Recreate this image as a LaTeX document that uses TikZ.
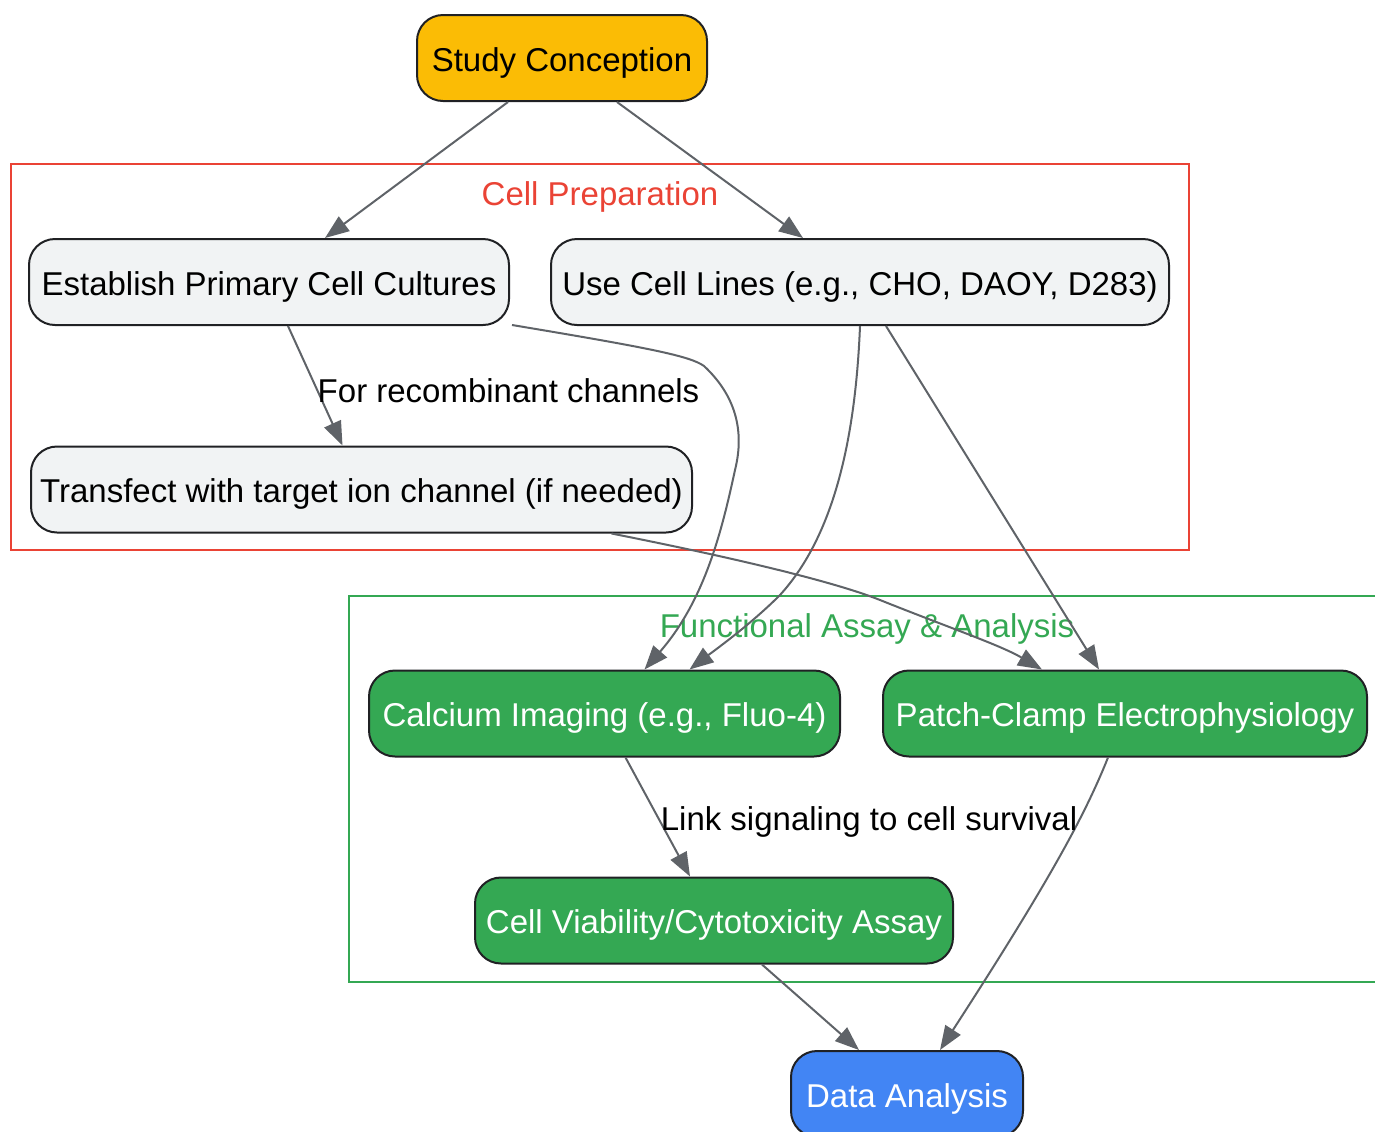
\documentclass[tikz,border=0pt]{standalone}
\usepackage{fontspec}
\setmainfont{Liberation Sans}
\usetikzlibrary{arrows.meta,calc}

\definecolor{conceptyellow}{HTML}{FBBC05}
\definecolor{prepgray}{HTML}{F1F3F4}
\definecolor{assaygreen}{HTML}{34A853}
\definecolor{resultblue}{HTML}{4285F4}
\definecolor{clusterred}{HTML}{EA4335}
\definecolor{edgegray}{HTML}{5F6368}
\definecolor{borderdark}{HTML}{202124}

\tikzset{
  stepbox/.style={draw=borderdark, line width=1pt, rounded corners=13pt,
    inner sep=0pt, minimum height=43pt, minimum width=#1,
    text height=13.3pt, text depth=0pt,
    font=\fontsize{16.5pt}{20pt}\selectfont},
  prepbox/.style={stepbox=#1, fill=prepgray},
  assaybox/.style={stepbox=#1, fill=assaygreen, text=white},
  flow/.style={draw=edgegray, line width=1pt,
    -{Triangle[length=12pt,width=9pt]}},
  flowlabel/.style={inner sep=0pt, font=\fontsize{16.5pt}{20pt}\selectfont},
}

\begin{document}
\begin{tikzpicture}[x=0.5pt, y=-0.5pt]
  \useasboundingbox (0,0) rectangle (1375,1131);

  % clusters
  \draw[clusterred, line width=1pt] (11,164) rectangle (1189,550);
  \node[flowlabel, text=clusterred] (preplabel) at (600,197) {Cell Preparation};
  \draw[assaygreen, line width=1pt] (349,596) rectangle (1390,982);
  \node[flowlabel, text=assaygreen] (assaylabel) at (867,629) {Functional Assay \& Analysis};

  % steps
  \node[stepbox=145pt, fill=conceptyellow] (study) at (562,58) {Study Conception};
  \node[prepbox=240pt] (primary) at (269,282) {Establish Primary Cell Cultures};
  \node[prepbox=309pt] (lines) at (860,282) {Use Cell Lines (e.g., CHO, DAOY, D283)};
  \node[prepbox=330.5pt] (transfect) at (361.5,489.5) {Transfect with target ion channel (if needed)};
  \node[assaybox=235.5pt] (calcium) at (604.5,713.5) {Calcium Imaging (e.g., Fluo-4)};
  \node[assaybox=242pt] (patch) at (1125,713.5) {Patch-Clamp Electrophysiology};
  \node[assaybox=239pt] (viability) at (714,920.5) {Cell Viability/Cytotoxicity Assay};
  \node[stepbox=116pt, fill=resultblue, text=white] (analysis) at (907,1094) {Data Analysis};

  % connectors
  \draw[flow] ($(study.south)+(-54,0)$) -- ($(primary.north)+(56,0)$);
  \draw[flow] ($(study.south)+(55,0)$) -- ($(lines.north)+(-57,0)$);
  \draw[flow] ($(primary.south)+(19,0)$) -- ($(transfect.north)+(-19,0)$);
  \draw[flow] ($(primary.south east)+(2,-1)$) .. controls (650,348) and (690,356) .. (704,366)
    .. controls (735,395) and (745,430) .. (735,470)
    .. controls (722,530) and (705,600) .. ($(calcium.north)+(40,0)$);
  \draw[flow] (lines.south) .. controls (855,450) and (830,540) .. (780,595)
    .. controls (750,625) and (715,650) .. ($(calcium.north)+(85,0)$);
  \draw[flow] ($(lines.south)+(26,0)$) -- ($(patch.north)+(-26,0)$);
  \draw[flow] ($(transfect.south)+(250,0)$) .. controls (720,555) and (830,580) .. (880,600)
    .. controls (950,628) and (1000,645) .. ($(patch.north)+(-83,0)$);
  \draw[flow] ($(calcium.south)+(21,0)$) -- ($(viability.north)+(-24,0)$);
  \draw[flow] ($(patch.south)+(-17,0)$) .. controls (1085,815) and (1050,880) .. ($(analysis.north)+(33,0)$);
  \draw[flow] ($(viability.south)+(48,0)$) -- ($(analysis.north)+(-48,0)$);

  % edge labels
  \node[flowlabel] (recomblabel) at (508.5,391) {For recombinant channels};
  \node[flowlabel] (survivallabel) at (869,822) {Link signaling to cell survival};
\end{tikzpicture}
\end{document}
